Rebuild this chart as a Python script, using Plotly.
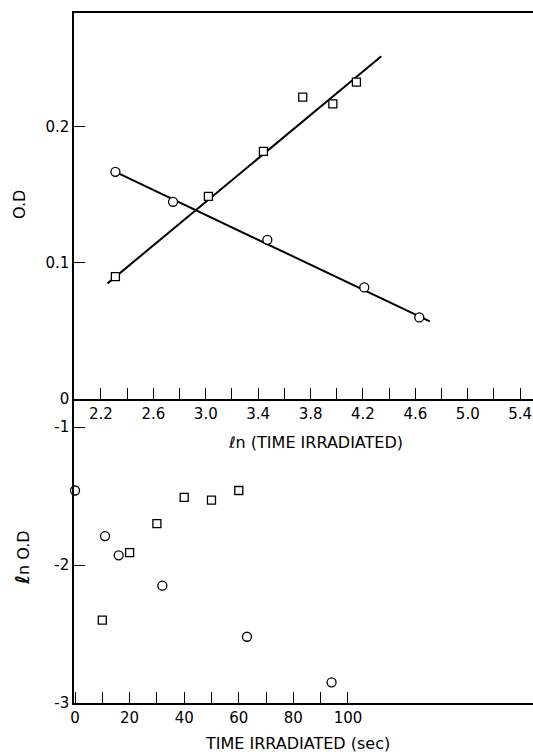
import plotly.graph_objects as go

# ---- top panel data: O.D vs ln(time irradiated) ----
ln_t_circle = [2.31, 2.75, 3.47, 4.21, 4.63]
od_circle = [0.167, 0.145, 0.117, 0.082, 0.060]
ln_t_square = [2.31, 3.02, 3.44, 3.74, 3.97, 4.15]
od_square = [0.090, 0.149, 0.182, 0.222, 0.217, 0.233]
fit_circle_x = [2.31, 4.71]
fit_circle_y = [0.167, 0.057]
fit_square_x = [2.25, 4.34]
fit_square_y = [0.085, 0.252]

# ---- bottom panel data: ln O.D vs time irradiated (sec) ----
t_circle = [0, 11, 16, 32, 63, 94]
lnod_circle = [-1.46, -1.79, -1.93, -2.15, -2.52, -2.85]
t_square = [10, 20, 30, 40, 50, 60]
lnod_square = [-2.40, -1.91, -1.70, -1.51, -1.53, -1.46]

# ---- tick labels ----
top_x_ticks = [2.2, 2.4, 2.6, 2.8, 3.0, 3.2, 3.4, 3.6, 3.8, 4.0, 4.2, 4.4, 4.6, 4.8, 5.0, 5.2, 5.4]
top_x_labels = ["2.2", "", "2.6", "", "3.0", "", "3.4", "", "3.8", "", "4.2", "", "4.6", "", "5.0", "", "5.4"]
top_y_ticks = [0, 0.1, 0.2]
top_y_labels = ["0", "0.1", "0.2"]
bot_x_ticks = [0, 10, 20, 30, 40, 50, 60, 70, 80, 90, 100]
bot_x_labels = ["0", "", "20", "", "40", "", "60", "", "80", "", "100"]
bot_y_ticks = [-3, -2, -1]
bot_y_labels = ["-3", "-2", "-1"]

FONT = "DejaVu Sans"
W, H = 533, 752
L, T, B, R = 74, 13, 752 - 703, 0

circle_marker = dict(symbol="circle", size=9, color="white", line=dict(color="black", width=1.3))
square_marker = dict(symbol="square", size=8, color="white", line=dict(color="black", width=1.3))

fig = go.Figure()
fig.add_trace(go.Scatter(x=fit_circle_x, y=fit_circle_y, mode="lines",
                         line=dict(color="black", width=2), xaxis="x", yaxis="y"))
fig.add_trace(go.Scatter(x=fit_square_x, y=fit_square_y, mode="lines",
                         line=dict(color="black", width=2), xaxis="x", yaxis="y"))
fig.add_trace(go.Scatter(x=ln_t_circle, y=od_circle, mode="markers",
                         marker=circle_marker, xaxis="x", yaxis="y"))
fig.add_trace(go.Scatter(x=ln_t_square, y=od_square, mode="markers",
                         marker=square_marker, xaxis="x", yaxis="y"))
fig.add_trace(go.Scatter(x=t_circle, y=lnod_circle, mode="markers",
                         marker=circle_marker, xaxis="x2", yaxis="y2", cliponaxis=False))
fig.add_trace(go.Scatter(x=t_square, y=lnod_square, mode="markers",
                         marker=square_marker, xaxis="x2", yaxis="y2", cliponaxis=False))

split = (703 - 399) / (703 - 13)
common = dict(showgrid=False, zeroline=False, showline=True, linecolor="black", linewidth=1.5,
              ticks="inside", ticklen=11, tickwidth=1, tickcolor="black",
              tickfont=dict(family=FONT, size=15, color="black"), tickmode="array")

fig.update_layout(
    width=W, height=H,
    margin=dict(l=L, r=R, t=T, b=B, pad=0),
    paper_bgcolor="white", plot_bgcolor="white",
    showlegend=False,
    font=dict(family=FONT, size=15, color="black"),
    xaxis=dict(domain=[0, 1], anchor="y", range=[1.994, 5.498], mirror=True,
               tickvals=top_x_ticks, ticktext=top_x_labels, **common),
    yaxis=dict(domain=[split, 1], anchor="x", range=[0, 0.2838],
               tickvals=top_y_ticks, ticktext=top_y_labels, **common),
    xaxis2=dict(domain=[0, 1], anchor="y2", range=[-0.37, 167.8],
                tickvals=bot_x_ticks, ticktext=bot_x_labels, **common),
    yaxis2=dict(domain=[0, split], anchor="x2", range=[-3, -0.797],
                tickvals=bot_y_ticks, ticktext=bot_y_labels, **common),
)

ann_font = dict(family=FONT, size=16, color="black")
# positions given in window pixels, converted to paper coordinates below
labels = [
    ("\u2113n (TIME IRRADIATED)", 315, 442, 0),
    ("TIME IRRADIATED (sec)", 297, 743, 0),
    ("O.D", 20, 205, -90),
    ("<b><span style='font-size:19px'>\u2113</span></b>n O.D", 22, 558, -90),
]
pw, ph = W - L - R, H - T - B
for text, px, py, ang in labels:
    fig.add_annotation(text=text, xref="paper", yref="paper",
                       x=(px - L) / pw, y=(H - py - B) / ph,
                       xanchor="center", yanchor="middle",
                       showarrow=False, textangle=ang, font=ann_font)

fig.write_html("out.html", config={"displayModeBar": False},
               post_script="document.body.style.margin='0';document.body.style.overflow='hidden';")
